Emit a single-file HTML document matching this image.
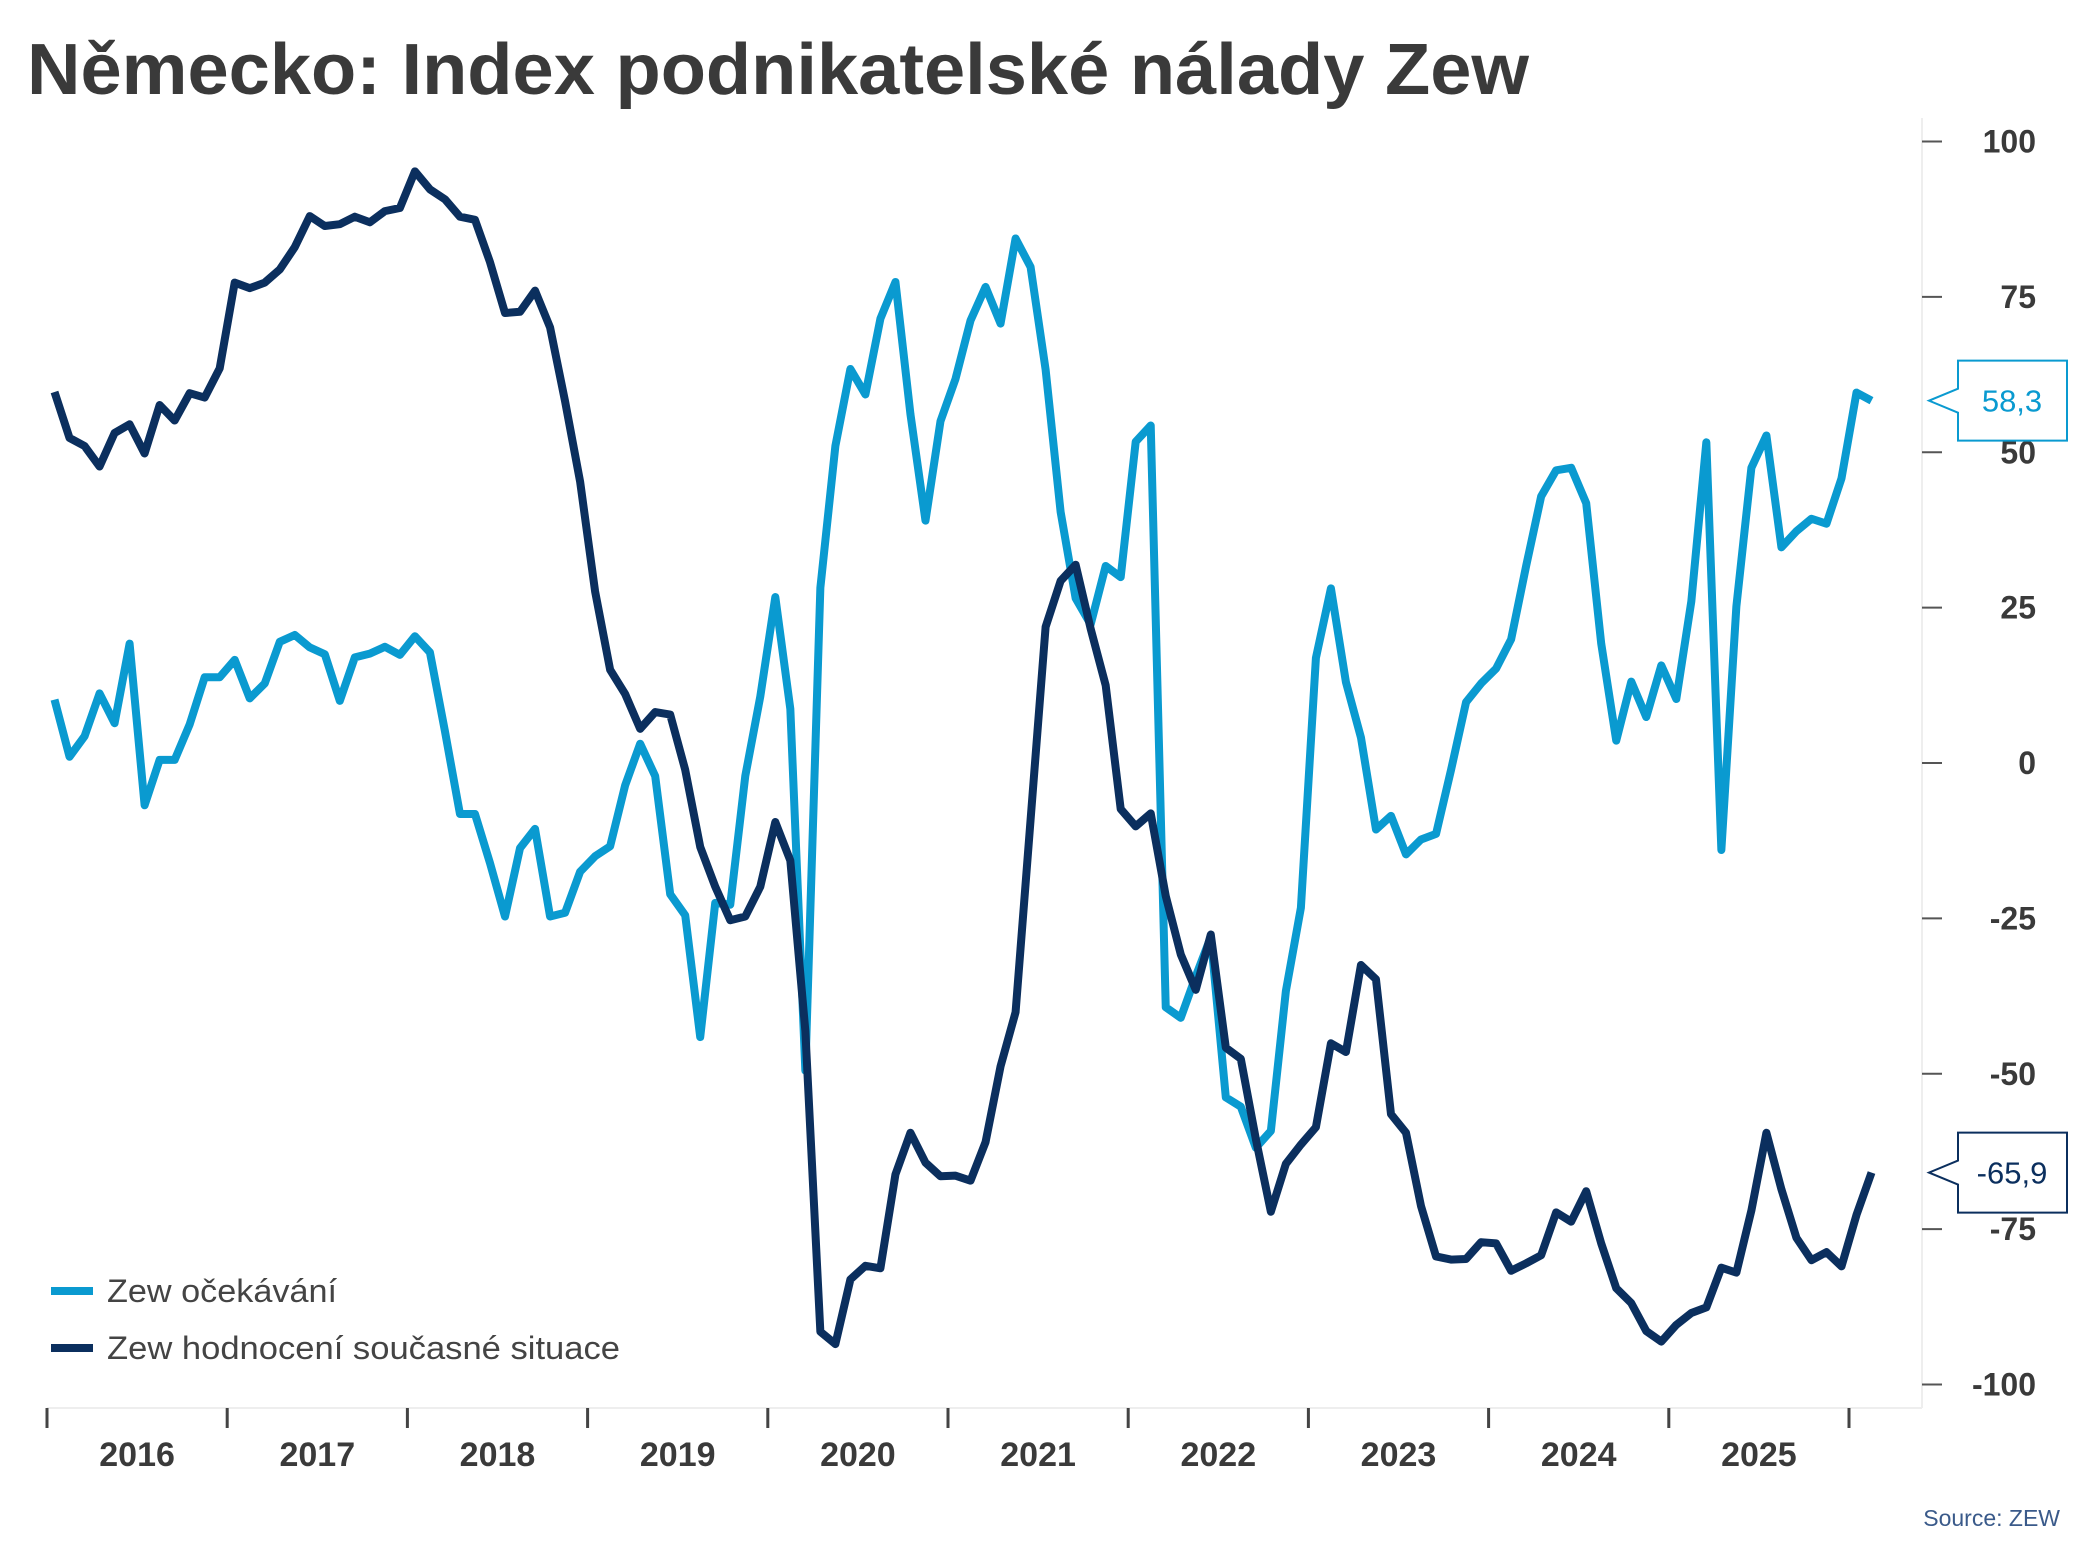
<!DOCTYPE html>
<html><head><meta charset="utf-8"><style>
body{margin:0;background:#fff;}
svg{display:block;font-family:"Liberation Sans",sans-serif;}
</style></head><body>
<svg id="c" width="2093" height="1568">
<text x="27" y="94" font-size="72" font-weight="bold" fill="#3a3a3a" textLength="1502" lengthAdjust="spacingAndGlyphs">Německo: Index podnikatelské nálady Zew</text>
<g id="grid"></g>
<g id="lines"></g>
<g id="legend">
<line x1="51" y1="1291" x2="93" y2="1291" stroke="#0a9ad0" stroke-width="8"/>
<text x="107" y="1302" font-size="32" fill="#444" textLength="230" lengthAdjust="spacingAndGlyphs">Zew očekávání</text>
<line x1="51" y1="1348" x2="93" y2="1348" stroke="#0b2f5e" stroke-width="8"/>
<text x="107" y="1359" font-size="32" fill="#444" textLength="513" lengthAdjust="spacingAndGlyphs">Zew hodnocení současné situace</text>
</g>
<text x="2060" y="1526" font-size="23" fill="#3a5a8a" text-anchor="end">Source: ZEW</text>
</svg>
<script>
const years=["2016","2017","2018","2019","2020","2021","2022","2023","2024","2025"];
const yTicks=[100,75,50,25,0,-25,-50,-75,-100];
const expectations=[10.2,1.0,4.3,11.2,6.4,19.2,-6.8,0.5,0.5,6.2,13.8,13.8,
16.6,10.4,12.8,19.5,20.6,18.6,17.5,10.0,17.0,17.6,18.7,17.4,
20.4,17.8,5.1,-8.2,-8.2,-16.1,-24.7,-13.7,-10.6,-24.7,-24.1,-17.5,
-15.0,-13.4,-3.6,3.1,-2.1,-21.1,-24.5,-44.1,-22.5,-22.8,-2.1,10.7,
26.7,8.7,-49.5,28.2,51.0,63.4,59.3,71.5,77.4,56.1,39.0,55.0,
61.8,71.2,76.6,70.7,84.4,79.8,63.3,40.4,26.5,22.3,31.7,29.9,
51.7,54.3,-39.3,-41.0,-34.3,-28.0,-53.8,-55.3,-61.9,-59.2,-36.7,-23.3,
16.9,28.1,13.0,4.1,-10.7,-8.5,-14.7,-12.3,-11.4,-1.1,9.8,12.8,
15.2,19.9,31.7,42.9,47.1,47.5,41.8,19.2,3.6,13.1,7.4,15.7,
10.3,26.0,51.6,-14.0,25.2,47.5,52.7,34.7,37.3,39.3,38.5,45.8,
59.6,58.3];
const current=[59.7,52.3,51.0,47.7,53.1,54.5,49.8,57.6,55.1,59.5,58.8,63.5,
77.3,76.4,77.3,79.4,83.0,88.0,86.4,86.7,87.9,87.0,88.8,89.3,
95.2,92.3,90.7,87.9,87.4,80.6,72.4,72.6,76.0,70.1,58.2,45.3,
27.6,15.0,11.1,5.5,8.2,7.8,-1.1,-13.5,-19.9,-25.3,-24.7,-19.9,
-9.5,-15.7,-43.1,-91.5,-93.5,-83.1,-80.9,-81.3,-66.2,-59.5,-64.3,-66.5,
-66.4,-67.2,-61.0,-48.8,-40.1,-9.1,21.9,29.3,31.9,21.6,12.5,-7.4,
-10.2,-8.1,-21.4,-30.8,-36.5,-27.6,-45.8,-47.6,-60.5,-72.2,-64.5,-61.4,
-58.6,-45.1,-46.5,-32.5,-34.8,-56.5,-59.5,-71.3,-79.4,-79.9,-79.8,-77.1,
-77.3,-81.7,-80.5,-79.2,-72.3,-73.8,-68.9,-77.3,-84.5,-86.9,-91.4,-93.1,
-90.4,-88.5,-87.6,-81.2,-82.0,-72.0,-59.5,-68.6,-76.4,-80.0,-78.7,-81.0,
-72.7,-65.9];
const NS="http://www.w3.org/2000/svg";
const X0=47,YW=180.2,MW=YW/12;
const xS=i=>X0+(i+0.5)*MW;
const yS=v=>763-v*(1243/200);
function mk(tag,attrs,parent){const e=document.createElementNS(NS,tag);for(const k in attrs)e.setAttribute(k,attrs[k]);parent.appendChild(e);return e;}
const g=document.getElementById('grid');
let e;
e=mk('line',{x1:1922,y1:118,x2:1922,y2:1408,stroke:'#eee','stroke-width':2},g);


e=mk('line',{x1:47,y1:1408,x2:1922,y2:1408,stroke:'#eee','stroke-width':2},g);


yTicks.forEach(v=>{
 const t=mk('line',{x1:1922,x2:1942,y1:yS(v),y2:yS(v),stroke:'#555','stroke-width':2},g);
 
 
 const l=mk('text',{x:2036,y:yS(v)+11,'font-size':32,'font-weight':'bold',fill:'#3a3a3a','text-anchor':'end'},g);
 l.textContent=v;
 
 
});
for(let k=0;k<=years.length;k++){
 const t=mk('line',{x1:X0+k*YW,x2:X0+k*YW,y1:1408,y2:1428,stroke:'#444','stroke-width':3},g);
 
 
}
years.forEach((y,k)=>{
 const l=mk('text',{x:X0+(k+0.5)*YW,y:1466,'font-size':34,'font-weight':'bold',fill:'#3a3a3a','text-anchor':'middle'},g);
 l.textContent=y;
 
 
});
const lg=document.getElementById('lines');
function series(arr,color,name){
 const p=mk('polyline',{points:arr.map((v,i)=>xS(i)+','+yS(v)).join(' '),fill:'none',stroke:color,'stroke-width':8,'stroke-linejoin':'round'},lg);
 
 
}
series(expectations,'#0a9ad0','line-expectations');
series(current,'#0b2f5e','line-current-situation');
function callout(v,color,name){
 const y=yS(v);
 const grp=mk('g',{},lg);
 
 
 mk('path',{d:`M1958 ${y-40} H2067 V${y+40} H1958 V${y+12} L1929 ${y} L1958 ${y-12} Z`,fill:'#fff',stroke:color,'stroke-width':2},grp);
 const t=mk('text',{x:2012,y:y+11,'font-size':31,fill:color,'text-anchor':'middle'},grp);
 t.textContent=v.toFixed(1).replace('.',',');
}
callout(expectations[expectations.length-1],'#0a9ad0','callout-expectations');
callout(current[current.length-1],'#0b2f5e','callout-current');
</script>
</body></html>
